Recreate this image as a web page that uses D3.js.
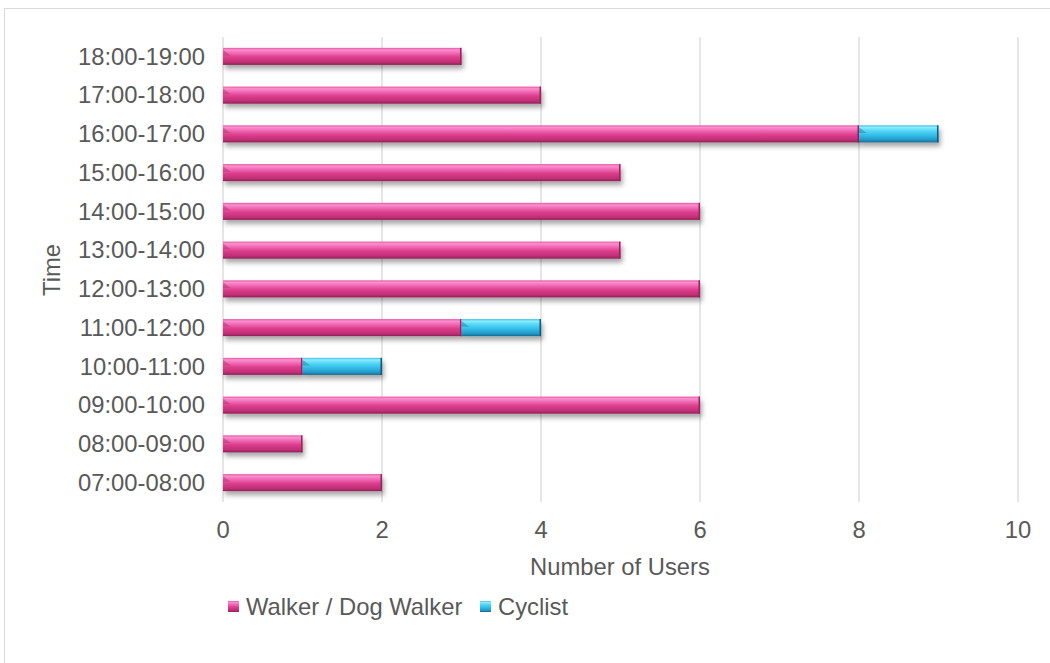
<!DOCTYPE html>
<html><head><meta charset="utf-8">
<script src="https://cdn.jsdelivr.net/npm/d3@7"></script>
<style>body{margin:0;background:#fff}svg{display:block}text{font-family:"Liberation Sans",Arial,sans-serif;fill:#595959}</style>
</head><body><svg id="c" width="1050" height="663"></svg>
<script>
const categories=["07:00-08:00","08:00-09:00","09:00-10:00","10:00-11:00","11:00-12:00","12:00-13:00","13:00-14:00","14:00-15:00","15:00-16:00","16:00-17:00","17:00-18:00","18:00-19:00"];
const walker=[2,1,6,1,3,6,5,6,5,8,4,3];
const cyclist=[0,0,0,1,1,0,0,0,0,1,0,0];
const seriesNames=["Walker / Dog Walker","Cyclist"];
const xTicks=[0,2,4,6,8,10];

const svg=d3.select("#c");
const FS=23.8;
svg.append("rect").attr("x",4.5).attr("y",8.5).attr("width",1060).attr("height",670).attr("fill","#fff").attr("stroke","#d9d9d9");
const defs=svg.append("defs");
function grad(id,stops){const g=defs.append("linearGradient").attr("id",id).attr("x1",0).attr("y1",0).attr("x2",0).attr("y2",1);
stops.forEach(s=>g.append("stop").attr("offset",s[0]).attr("stop-color",s[1]));}
grad("gp",[[0,"#e8559f"],[0.12,"#fb8fcf"],[0.3,"#f06bb5"],[0.55,"#dc3e8d"],[0.85,"#c02f75"],[1,"#8d1f55"]]);
grad("gc",[[0,"#3cbde6"],[0.12,"#8cedfd"],[0.3,"#5ad8f6"],[0.55,"#34c0ea"],[0.85,"#2399c8"],[1,"#16688f"]]);
const f=defs.append("filter").attr("id","sh").attr("x","-5%").attr("y","-50%").attr("width","115%").attr("height","250%");
f.append("feDropShadow").attr("dx",2).attr("dy",4).attr("stdDeviation",2.5).attr("flood-color","#000").attr("flood-opacity",0.35);

const x=d3.scaleLinear().domain([0,10]).range([223,1018]);
const y=d3.scaleBand().domain(categories.slice().reverse()).range([37,502]).paddingInner(0.56).paddingOuter(0.28);

svg.append("g").selectAll("line").data(xTicks).join("line")
 .attr("x1",d=>x(d)).attr("x2",d=>x(d)).attr("y1",37).attr("y2",502)
 .attr("stroke","#d9d9d9").attr("stroke-width",1.3);

svg.append("g").selectAll("text").data(xTicks).join("text")
 .attr("x",d=>x(d)).attr("y",538).attr("text-anchor","middle").attr("font-size",FS).text(d=>d);
svg.append("g").selectAll("text").data(categories).join("text")
 .attr("x",205).attr("y",d=>y(d)+y.bandwidth()/2).attr("dy","0.35em").attr("text-anchor","end").attr("font-size",FS).text(d=>d);

const bh=y.bandwidth();
function bar(g,x0,x1,yy,fill,edge){
  const gg=g.append("g");
  gg.append("rect").attr("x",x0).attr("y",yy).attr("width",x1-x0).attr("height",bh).attr("fill",fill).attr("filter","url(#sh)");
  gg.append("path").attr("d",`M${x0},${yy+2}L${x0+bh*0.45},${yy+bh*0.45}L${x0},${yy+bh*0.45}Z`).attr("fill",edge).attr("opacity",0.35);
  gg.append("rect").attr("x",x1-1.5).attr("y",yy).attr("width",1.5).attr("height",bh).attr("fill",edge);
}
const bg=svg.append("g");
categories.forEach((c,i)=>{
  const yy=y(c);
  bar(bg,x(0),x(walker[i]),yy,"url(#gp)","#a0205e");
  if(cyclist[i]>0) bar(bg,x(walker[i]),x(walker[i]+cyclist[i]),yy,"url(#gc)","#0d5a7d");
});

svg.append("text").attr("x",620).attr("y",575).attr("text-anchor","middle").attr("font-size",FS).text("Number of Users");
svg.append("text").attr("transform","translate(60,270) rotate(-90)").attr("text-anchor","middle").attr("font-size",FS).text("Time");

const lg=svg.append("g");
const items=[{n:seriesNames[0],f:"url(#gp)",x:228},{n:seriesNames[1],f:"url(#gc)",x:480}];
items.forEach(it=>{
  lg.append("rect").attr("x",it.x).attr("y",601).attr("width",11).attr("height",11).attr("fill",it.f);
  lg.append("text").attr("x",it.x+18).attr("y",615).attr("font-size",FS).text(it.n);
});
</script></body></html>
